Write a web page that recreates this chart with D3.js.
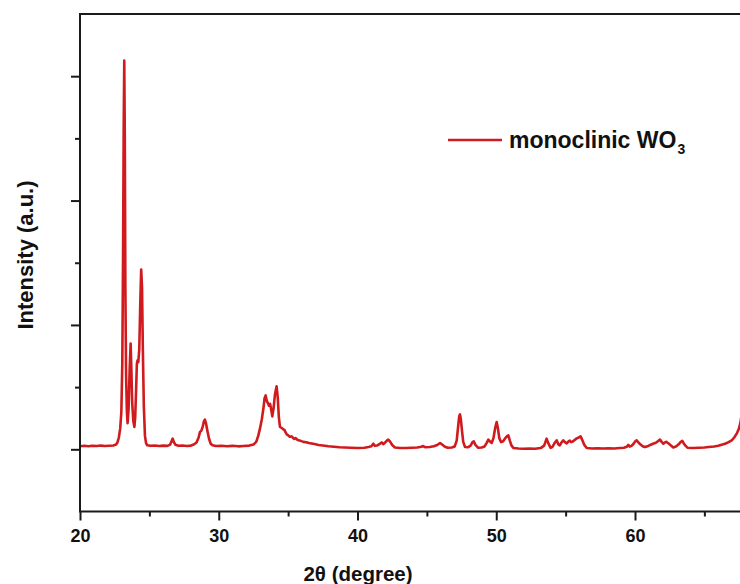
<!DOCTYPE html>
<html>
<head>
<meta charset="utf-8">
<script src="https://cdn.jsdelivr.net/npm/d3@7/dist/d3.min.js"></script>
<style>
  html, body { margin: 0; padding: 0; background: #fff; }
  svg { display: block; }
  text { font-family: "Liberation Sans", Arial, sans-serif; font-weight: bold; fill: #111; }
</style>
</head>
<body>
<svg id="chart" width="740" height="584"></svg>
<script>
// XRD pattern of monoclinic WO3: diffraction angle (2θ, degrees) and intensity (a.u.)
const angle = [
  20.0, 20.3, 20.6, 20.9, 21.2, 21.5, 21.8, 22.1, 22.4, 22.6, 22.7, 22.8, 22.9, 22.98,
  23.05, 23.10, 23.15, 23.19, 23.23, 23.27, 23.32, 23.38, 23.43, 23.50, 23.58, 23.65,
  23.70, 23.76, 23.84, 23.92, 23.98, 24.05, 24.10, 24.15, 24.20, 24.27, 24.35, 24.41,
  24.47, 24.53, 24.60, 24.68, 24.76, 24.85, 25.1, 25.4, 25.7, 26.0, 26.3, 26.5, 26.6,
  26.68, 26.76, 26.88, 27.1, 27.4, 27.7, 28.0, 28.2, 28.4, 28.55, 28.65, 28.75, 28.85,
  28.93, 29.0, 29.08, 29.18, 29.3, 29.42, 29.55, 29.8, 30.2, 30.6, 31.0, 31.4, 31.8,
  32.2, 32.5, 32.7, 32.85, 32.97, 33.1, 33.22, 33.3, 33.38, 33.46, 33.55, 33.62, 33.7,
  33.78, 33.86, 33.95, 34.05, 34.17, 34.25, 34.33, 34.41, 34.5, 34.58, 34.65, 34.73,
  34.8, 34.9, 35.01, 35.12, 35.25, 35.35, 35.45, 35.55, 35.65, 35.75, 35.9, 36.1, 36.3,
  36.5, 36.7, 36.9, 37.2, 37.5, 37.9, 38.3, 38.7, 39.1, 39.5, 40.0, 40.5, 40.8, 41.0,
  41.14, 41.25, 41.4, 41.55, 41.74, 41.85, 41.95, 42.1, 42.22, 42.35, 42.5, 42.7, 43.1,
  43.5, 43.9, 44.3, 44.6, 44.74, 44.9, 45.2, 45.5, 45.75, 45.95, 46.1, 46.3, 46.5, 46.8,
  47.0, 47.15, 47.25, 47.33, 47.39, 47.45, 47.53, 47.62, 47.75, 47.95, 48.15, 48.3,
  48.38, 48.5, 48.7, 48.95, 49.15, 49.3, 49.43, 49.55, 49.67, 49.8, 49.92, 50.03, 50.12,
  50.22, 50.35, 50.5, 50.65, 50.8, 50.87, 50.98, 51.1, 51.25, 51.6, 52.0, 52.4, 52.8,
  53.2, 53.45, 53.63, 53.75, 53.92, 54.05, 54.2, 54.36, 54.47, 54.58, 54.7, 54.83,
  54.95, 55.08, 55.2, 55.3, 55.4, 55.5, 55.65, 55.8, 55.95, 56.08, 56.2, 56.35, 56.52,
  56.9, 57.3, 57.7, 58.1, 58.5, 58.9, 59.2, 59.4, 59.52, 59.62, 59.75, 59.9, 60.0, 60.12,
  60.25, 60.4, 60.55, 60.72, 60.9, 61.1, 61.3, 61.5, 61.65, 61.8, 61.92, 62.04, 62.15,
  62.28, 62.4, 62.55, 62.76, 62.95, 63.15, 63.3, 63.41, 63.52, 63.65, 63.8, 64.2, 64.6,
  65.0, 65.3, 65.7, 66.0, 66.3, 66.49, 66.75, 66.97, 67.15, 67.33, 67.5, 67.6, 67.75, 67.9
];
const intensity = [
  25, 28, 24, 29, 26, 30, 27, 29, 31, 38, 55, 95, 170, 300,
  700, 1500, 2600, 3125, 2500, 1300, 600, 300, 210, 320, 650, 850,
  650, 380, 230, 180, 260, 500, 690, 715, 700, 800, 1200, 1445,
  1300, 800, 350, 110, 50, 32, 28, 31, 27, 30, 28, 38, 65,
  86, 60, 36, 28, 31, 27, 30, 38, 55, 95, 140, 150, 185,
  225, 238, 210, 150, 85, 45, 32, 27, 29, 25, 28, 24, 27,
  30, 38, 60, 110, 166, 240, 330, 410, 433, 390, 370, 350, 365,
  320, 265, 330, 440, 506, 420, 260, 180, 175, 168, 160, 158,
  140, 120, 112, 100, 105, 92, 84, 90, 78, 72, 68, 60, 57,
  50, 46, 42, 34, 30, 24, 20, 16, 14, 12, 10, 13, 18, 24,
  45, 28, 30, 40, 55, 42, 50, 68, 78, 62, 35, 15, 11,
  10, 12, 14, 20, 26, 16, 18, 24, 35, 51, 38, 20, 12, 14,
  22, 70, 180, 265, 281, 240, 150, 60, 18, 16, 30, 60,
  64, 35, 12, 14, 22, 50, 78, 62, 51, 90, 170, 219, 170,
  90, 58, 65, 90, 108, 112, 70, 30, 10, 7, 5, 6, 5,
  10, 30, 86, 50, 12, 20, 50, 72, 40, 32, 55, 72,
  58, 48, 62, 70, 58, 62, 75, 88, 95, 104, 75, 35, 10,
  7, 8, 6, 8, 7, 10, 12, 20, 35, 22, 28, 45, 62, 72,
  55, 38, 25, 18, 24, 35, 45, 52, 65, 78, 60, 45, 55,
  60, 48, 35, 15, 22, 40, 60, 67, 45, 28, 12, 11, 13,
  15, 18, 22, 28, 38, 45, 58, 72, 95, 126, 170, 215, 330, 520
];

// Axis ticks (the intensity axis carries no numbers)
const xMajorTicks = [20, 30, 40, 50, 60];
const xMinorTicks = [25, 35, 45, 55, 65];
const yMajorTicks = [0, 1000, 2000, 3000];
const yMinorTicks = [500, 1500, 2500];

const seriesName = "monoclinic WO";
const seriesSub = "3";
const xTitle = "2\u03B8 (degree)";
const yTitle = "Intensity (a.u.)";

const svg = d3.select("#chart");
const frameLeft = 80, frameTop = 14, frameBottom = 511.5;
const pxPerDegree = 13.875;
const xMax = 68.6;

const x = d3.scaleLinear().domain([20, xMax]).range([frameLeft, frameLeft + (xMax - 20) * pxPerDegree]);
const y = d3.scaleLinear().domain([-500, 3500]).range([frameBottom, frameTop]);
const red = "#d01a1d";
const axisColor = "#1a1a1a";

// clip the trace to the plotting frame
svg.append("defs").append("clipPath").attr("id", "plotClip")
  .append("rect")
  .attr("x", x(20)).attr("y", y(3500))
  .attr("width", x(xMax) - x(20)).attr("height", y(-500) - y(3500));

const data = angle.map((a, i) => ({ a, v: intensity[i] }));
const line = d3.line().x(d => x(d.a)).y(d => y(d.v));

svg.append("path")
  .datum(data)
  .attr("clip-path", "url(#plotClip)")
  .attr("fill", "none")
  .attr("stroke", red)
  .attr("stroke-width", 2.6)
  .attr("stroke-linejoin", "round")
  .attr("d", line);

// bottom axis with major (labelled) and minor ticks
const xAxis = svg.append("g").attr("transform", `translate(0,${frameBottom})`)
  .call(d3.axisBottom(x).tickValues(xMajorTicks).tickSize(9).tickPadding(9).tickFormat(d3.format("d")));
const xMinor = svg.append("g").attr("transform", `translate(0,${frameBottom})`)
  .call(d3.axisBottom(x).tickValues(xMinorTicks).tickSize(5).tickFormat(""));

// left axis, ticks only
const yAxis = svg.append("g").attr("transform", `translate(${frameLeft},0)`)
  .call(d3.axisLeft(y).tickValues(yMajorTicks).tickSize(9).tickFormat(""));
const yMinor = svg.append("g").attr("transform", `translate(${frameLeft},0)`)
  .call(d3.axisLeft(y).tickValues(yMinorTicks).tickSize(5).tickFormat(""));

[xAxis, xMinor, yAxis, yMinor].forEach(g => {
  g.select(".domain").remove();
  g.selectAll(".tick line").attr("stroke", axisColor).attr("stroke-width", 2);
});
xAxis.selectAll(".tick text")
  .attr("fill", "#111")
  .style("font-size", "18px")
  .style("font-weight", "bold")
  .style("font-family", "'Liberation Sans', Arial, sans-serif");

// plotting frame
svg.append("rect")
  .attr("x", x(20)).attr("y", y(3500))
  .attr("width", x(xMax) - x(20)).attr("height", y(-500) - y(3500))
  .attr("fill", "none").attr("stroke", axisColor).attr("stroke-width", 2);

// axis titles
svg.append("text")
  .attr("x", 358).attr("y", 581)
  .attr("text-anchor", "middle")
  .style("font-size", "20.5px")
  .text(xTitle);

svg.append("text")
  .attr("transform", "translate(33,255) rotate(-90)")
  .attr("text-anchor", "middle")
  .style("font-size", "22px")
  .text(yTitle);

// legend
const legY = 140;
svg.append("line")
  .attr("x1", 448).attr("x2", 502).attr("y1", legY).attr("y2", legY)
  .attr("stroke", red).attr("stroke-width", 2.6);
const legText = svg.append("text")
  .attr("x", 509).attr("y", legY + 8)
  .style("font-size", "23px");
legText.append("tspan").text(seriesName);
legText.append("tspan").attr("dy", 6).attr("dx", 1).style("font-size", "14px").text(seriesSub);
</script>
</body>
</html>
